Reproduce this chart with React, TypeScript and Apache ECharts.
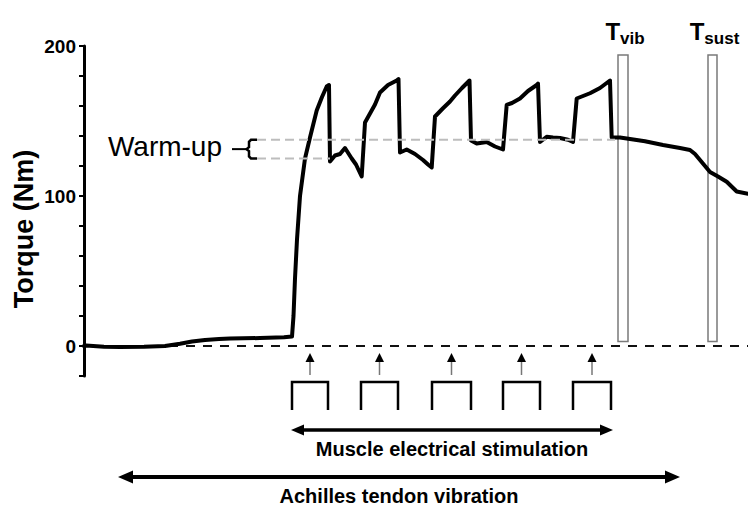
import React, { useEffect, useRef } from "react";
import * as echarts from "echarts";

const FF = "'Liberation Sans', Arial, sans-serif";

// Time (arbitrary units) and torque (Nm) of the recorded trace
const times = [0, 2, 20, 36, 60, 81, 96, 108, 121, 135, 146, 176, 200, 208, 209.5, 211, 213, 216, 221, 226, 232.7, 238, 242.7, 245,
  246, 251, 256, 261, 267.7, 272, 277.7, 281, 286, 291, 296, 304, 312.7, 314.5,
  316, 322.7, 331, 339, 344, 347.7, 351, 359, 366, 371, 378, 384, 385.5,
  387, 392.7, 402.7, 411, 419, 422.7, 428, 436, 444, 452.7, 454,
  456, 462.7, 469, 476, 484, 489, 492.7, 506, 516, 524, 526,
  527.7, 536, 546, 561, 579, 596, 606, 611, 616, 626, 634, 642.7, 652.7, 664];
const torque = [0, 0.3, -0.5, -0.6, -0.5, 0, 1.5, 3, 4, 4.6, 5, 5.3, 5.8, 6.3, 20, 45, 71, 100, 125, 139, 157, 166, 173, 174,
  123, 127, 128, 132, 125, 121, 113, 149, 155, 161, 169, 174, 177, 178,
  129, 131, 128, 124, 121, 119, 153, 158.5, 163, 167, 172, 176, 177,
  137, 135, 136, 133, 131, 160.7, 162, 165, 170, 174, 175,
  136, 139.5, 139, 138.7, 137.5, 136, 165, 168.5, 172, 176, 177,
  139, 139, 138, 136.5, 134, 132, 130.7, 128, 124, 116, 113, 109.5, 103, 101.5];

// Warm-up reference levels (Nm) and their extent
const warmUpLevels = [137.5, 125];
const warmUpStart = 173;
const warmUpEnd = [531, 246];

// Measurement windows
const windowNames = ["vib", "sust"];
const windowStart = [534, 624];
const windowEnd = [544, 633];
const windowTop = 194;
const windowBottom = 3;

// Stimulation trains
const pulseStart = [208, 277, 348, 419, 489];
const pulseEnd = [244, 314, 387, 456, 527];
const stimSpan = [207, 529];
const vibSpan = [34, 596];

const yTickLabels = [0, 100, 200];
const yAxisTitle = "Torque (Nm)";

export default function App() {
  const ref = useRef<HTMLDivElement>(null);
  useEffect(() => {
    const chart = echarts.init(ref.current!, null, { renderer: "svg" });
    const data = times.map((t, i) => [t, torque[i]]);
    chart.setOption({
      animation: false,
      grid: { left: 84, right: 0, top: 46, bottom: 130 },
      xAxis: { type: "value", min: 0, max: 664, show: false },
      yAxis: {
        type: "value",
        min: -20,
        max: 200,
        interval: 20,
        axisLine: { show: true, lineStyle: { color: "#000", width: 3 } },
        axisTick: { show: true, inside: false, length: 5, lineStyle: { color: "#000", width: 2 } },
        axisLabel: {
          formatter: (v: number) => (yTickLabels.includes(v) ? String(v) : ""),
          color: "#000",
          fontWeight: "bold",
          fontSize: 19,
          fontFamily: FF,
          margin: 8,
        },
        splitLine: { show: false },
      },
      series: [
        {
          type: "line",
          data: [[0, 0], [664, 0]],
          symbol: "none",
          silent: true,
          z: 1,
          lineStyle: { color: "#111", width: 2, type: [9, 8] },
        },
        {
          type: "line",
          data,
          symbol: "none",
          silent: true,
          z: 3,
          lineStyle: { color: "#000", width: 4, join: "round", cap: "round" },
          markArea: {
            silent: true,
            itemStyle: { color: "rgba(0,0,0,0)", borderColor: "#7a7a7a", borderWidth: 1.5 },
            data: windowStart.map((s, i) => [
              { xAxis: s, yAxis: windowTop },
              { xAxis: windowEnd[i], yAxis: windowBottom },
            ]),
          },
        },
        ...warmUpLevels.map((lv, i) => ({
          type: "line",
          data: [[warmUpStart, lv], [warmUpEnd[i], lv]],
          symbol: "none",
          silent: true,
          z: 4,
          lineStyle: { color: "#bdbdbd", width: 2, type: [9, 5] },
        })),
      ],
    });

    const px = (t: number, v: number) => chart.convertToPixel({ gridIndex: 0 }, [t, v]) as number[];
    const y0 = px(0, 0)[1];
    const g: any[] = [];
    const txt = (text: string, x: number, y: number, font: string, align = "center") => ({
      type: "text",
      x,
      y,
      style: { text, font, fill: "#000", align, textAlign: align, verticalAlign: "middle", textVerticalAlign: "middle" },
    });
    const ln = (x1: number, y1: number, x2: number, y2: number, w: number, c = "#000") => ({
      type: "line",
      shape: { x1, y1, x2, y2 },
      style: { stroke: c, lineWidth: w },
    });
    const tri = (pts: number[][]) => ({ type: "polygon", shape: { points: pts }, style: { fill: "#000" } });

    // y axis title
    g.push({ ...txt(yAxisTitle, 24, y0 - 117, `bold 27px ${FF}`), rotation: Math.PI / 2 });

    // stimulation arrows and pulses
    pulseStart.forEach((s, i) => {
      const l = px(s, 0)[0];
      const r = px(pulseEnd[i], 0)[0];
      const m = (l + r) / 2;
      g.push(ln(m, y0 + 15, m, y0 + 29, 1.5, "#777"));
      g.push(tri([[m, y0 + 7], [m - 4.5, y0 + 16], [m + 4.5, y0 + 16]]));
      g.push({
        type: "polyline",
        shape: { points: [[l, y0 + 64], [l, y0 + 36], [r, y0 + 36], [r, y0 + 64]] },
        style: { stroke: "#000", lineWidth: 2.5, fill: null },
      });
    });

    // double arrows
    const dbl = (a: number, b: number, y: number, w: number, len: number, hw: number) => {
      const L = px(a, 0)[0];
      const R = px(b, 0)[0];
      g.push(ln(L + len - 1, y, R - len + 1, y, w));
      g.push(tri([[R, y], [R - len, y - hw], [R - len, y + hw]]));
      g.push(tri([[L, y], [L + len, y - hw], [L + len, y + hw]]));
      return (L + R) / 2;
    };
    const cm = dbl(stimSpan[0], stimSpan[1], y0 + 84, 3.5, 13, 5.5);
    g.push(txt("Muscle electrical stimulation", cm, y0 + 103, `bold 20px ${FF}`));
    const cv = dbl(vibSpan[0], vibSpan[1], y0 + 131, 4, 15, 6.5);
    g.push(txt("Achilles tendon vibration", cv, y0 + 150, `bold 20px ${FF}`));

    // window labels
    const ctx = document.createElement("canvas").getContext("2d")!;
    windowNames.forEach((name, i) => {
      const cx = (px(windowStart[i], 0)[0] + px(windowEnd[i], 0)[0]) / 2 + 2;
      ctx.font = `bold 24px ${FF}`;
      const wT = ctx.measureText("T").width;
      ctx.font = `bold 17px ${FF}`;
      const wS = ctx.measureText(name).width;
      const left = cx - (wT + wS) / 2;
      g.push(txt("T", left, 31, `bold 24px ${FF}`, "left"));
      g.push(txt(name, left + wT, 38, `bold 17px ${FF}`, "left"));
    });

    // warm-up brace
    const xR = px(warmUpStart, 0)[0];
    const yU = px(0, warmUpLevels[0])[1];
    const yL = px(0, warmUpLevels[1])[1];
    const ym = (yU + yL) / 2;
    g.push({
      type: "polyline",
      shape: {
        points: [[xR, yU], [xR - 6, yU], [xR - 8, yU + 2], [xR - 8, ym - 2], [xR - 10.5, ym], [xR - 8, ym + 2],
          [xR - 8, yL - 2], [xR - 6, yL], [xR, yL]],
      },
      style: { stroke: "#000", lineWidth: 2.5, fill: null },
    });
    g.push(ln(xR - 25, ym, xR - 10, ym, 2));
    g.push(txt("Warm-up", xR - 35, ym - 2.5, `28px ${FF}`, "right"));

    chart.setOption({ graphic: g });
    return () => chart.dispose();
  }, []);
  return <div ref={ref} style={{ position: "fixed", left: 0, top: 0, width: 748, height: 506, background: "#fff" }} />;
}
